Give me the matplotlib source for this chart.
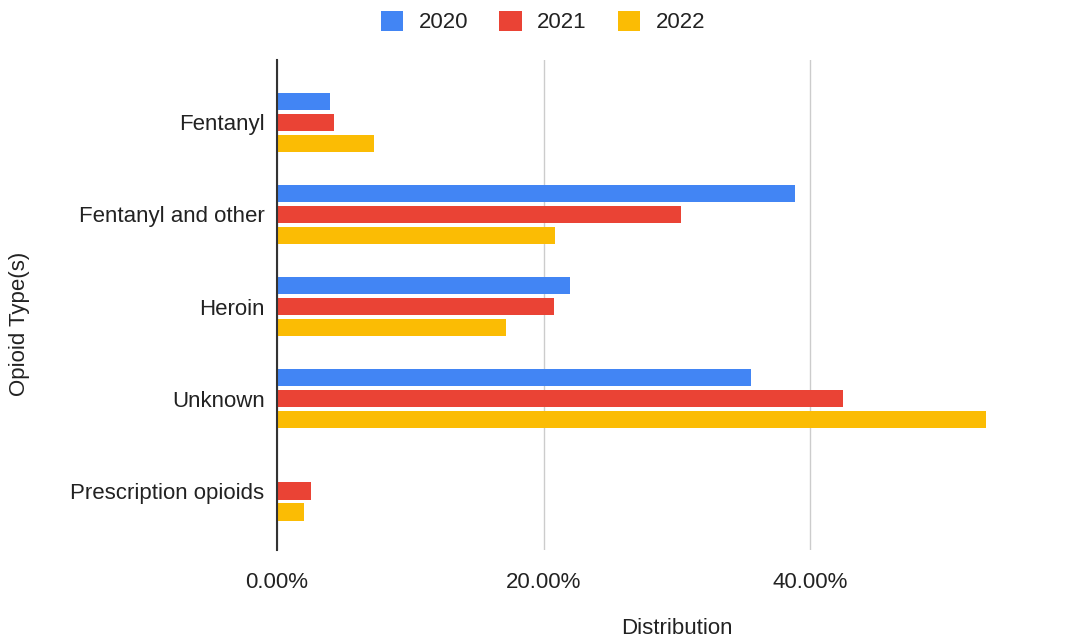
import matplotlib
matplotlib.use("Agg")
import matplotlib.pyplot as plt
import numpy as np
from matplotlib.ticker import FuncFormatter

categories = ["Fentanyl", "Fentanyl and other", "Heroin", "Unknown", "Prescription opioids"]
years = ["2020", "2021", "2022"]
vals_2020 = [3.95, 38.9, 22.0, 35.6, 0.0]
vals_2021 = [4.25, 30.3, 20.8, 42.5, 2.55]
vals_2022 = [7.25, 20.9, 17.2, 53.2, 2.0]
colors = ["#4285F4", "#EA4335", "#FBBC04"]

plt.rcParams["font.family"] = ["Liberation Sans", "DejaVu Sans"]

W, H = 1065, 641
fig = plt.figure(figsize=(W / 100, H / 100), dpi=100)
ax = fig.add_axes([277 / W, 1 - 550 / H, (1010 - 277) / W, (550 - 60) / H])

y = np.arange(len(categories))
pitch = 0.228
height = 0.185
for i, (vals, yr) in enumerate(zip([vals_2020, vals_2021, vals_2022], years)):
    ax.barh(y + (i - 1) * pitch, vals, height=height, color=colors[i], label=yr, zorder=3)

ax.set_ylim(len(categories) - 1 + 0.64, -0.674)
ax.set_xlim(0, (1010 - 277) / 13.325)
ax.set_yticks(y)
ax.set_yticklabels(categories, fontsize=16, color="#222222")
ax.set_xticks([0, 20, 40])
ax.xaxis.set_major_formatter(FuncFormatter(lambda v, p: f"{v:.2f}%"))
ax.tick_params(axis="x", length=0, pad=16, labelsize=16, labelcolor="#222222")
ax.tick_params(axis="y", length=0, pad=9)
ax.grid(axis="x", color="#cccccc", linewidth=1, zorder=0)
for s in ["top", "right", "bottom"]:
    ax.spines[s].set_visible(False)
ax.spines["left"].set_color("#333333")
ax.spines["left"].set_linewidth(1.5)
ax.spines["left"].set_zorder(4)

fig.text(20 / W, 1 - 324 / H, "Opioid Type(s)", rotation=90, fontsize=16,
         ha="center", va="center", color="#222222")
fig.text(677 / W, 1 - 628 / H, "Distribution", fontsize=16,
         ha="center", va="center", color="#222222")

fig.legend(loc="center", bbox_to_anchor=(543 / W, 1 - 22 / H), ncol=3, frameon=False,
           fontsize=16, handlelength=1.0, handleheight=1.0, columnspacing=1.4,
           handletextpad=0.7, labelcolor="#222222")

fig.savefig("out.png", dpi=100)
